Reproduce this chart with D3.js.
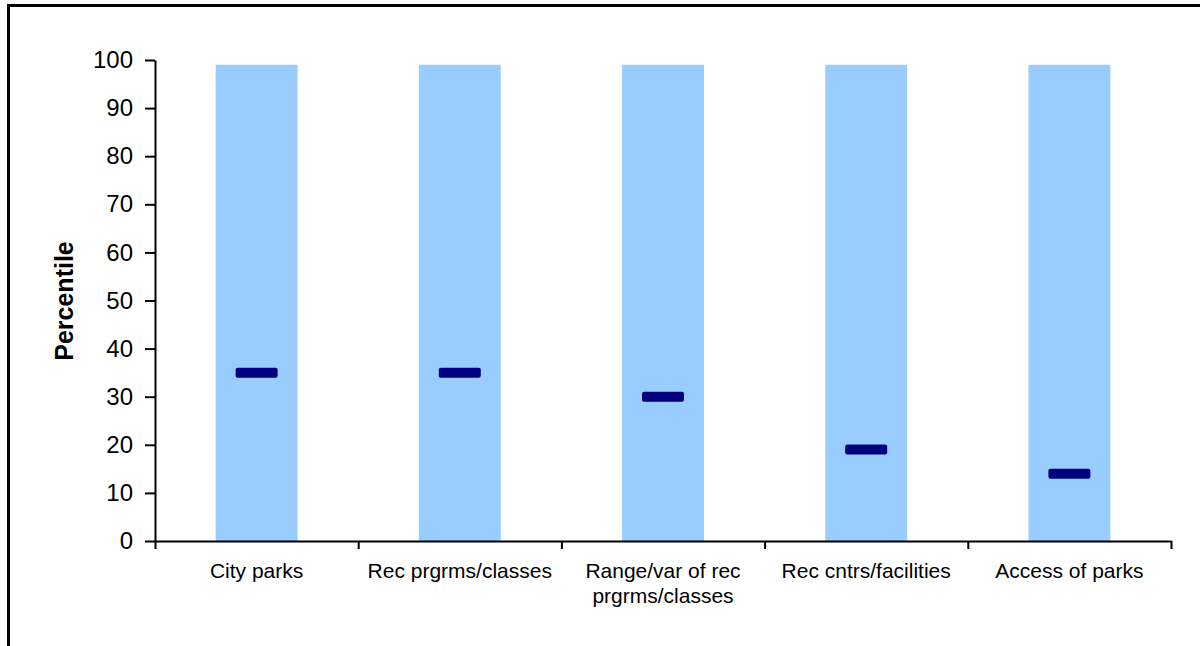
<!DOCTYPE html>
<html>
<head>
<meta charset="utf-8">
<script src="https://cdn.jsdelivr.net/npm/d3@7"></script>
<style>
  html, body { margin: 0; padding: 0; background: #fff; }
  svg { display: block; font-family: "Liberation Sans", Arial, sans-serif; }
</style>
</head>
<body>
<svg id="chart" width="1200" height="646"></svg>
<script>
// ---- data ----
const categories = ["City parks", "Rec prgrms/classes", "Range/var of rec prgrms/classes", "Rec cntrs/facilities", "Access of parks"];
const rangeTop = [99, 99, 99, 99, 99];
const percentiles = [35, 35, 30, 19, 14];
const yTicks = [0, 10, 20, 30, 40, 50, 60, 70, 80, 90, 100];
const yTitle = "Percentile";

// ---- layout ----
const W = 1200, H = 646;
const plot = { left: 155, right: 1171, top: 60, bottom: 541 };
const svg = d3.select("#chart");

// frame (top and left border)
svg.append("line").attr("x1", 7).attr("x2", W).attr("y1", 5.5).attr("y2", 5.5)
  .attr("stroke", "#000").attr("stroke-width", 3);
svg.append("line").attr("x1", 8.5).attr("x2", 8.5).attr("y1", 4).attr("y2", H)
  .attr("stroke", "#000").attr("stroke-width", 3);

const x = d3.scaleBand().domain(categories).range([plot.left, plot.right]).paddingInner(0).paddingOuter(0);
const xEdges = d3.scaleLinear().domain([0, categories.length]).range([plot.left, plot.right]);
const y = d3.scaleLinear().domain([0, 100]).range([plot.bottom, plot.top]);

const barW = x.bandwidth() * 0.403;
const markW = 42, markH = 10;

// bars (range backdrop)
svg.append("g").selectAll("rect").data(categories).join("rect")
  .attr("x", d => x(d) + x.bandwidth() / 2 - barW / 2)
  .attr("width", barW)
  .attr("y", (d, i) => y(rangeTop[i]))
  .attr("height", (d, i) => y(0) - y(rangeTop[i]))
  .attr("fill", "#99CCFF");

// markers
svg.append("g").selectAll("rect").data(categories).join("rect")
  .attr("x", d => x(d) + x.bandwidth() / 2 - markW / 2)
  .attr("width", markW)
  .attr("y", (d, i) => y(percentiles[i]) - markH / 2)
  .attr("height", markH)
  .attr("rx", 2).attr("ry", 2)
  .attr("fill", "#000080");

// y axis
const yAxis = svg.append("g").attr("transform", `translate(${plot.left},0)`)
  .call(d3.axisLeft(y).tickValues(yTicks).tickSize(10).tickPadding(12).tickSizeOuter(0));
yAxis.selectAll("path, line").attr("stroke", "#000").attr("stroke-width", 2);
yAxis.selectAll("text").attr("font-size", 24).attr("fill", "#000")
  .attr("font-family", '"Liberation Sans", Arial, sans-serif');

// x axis (ticks at category boundaries)
const xAxis = svg.append("g").attr("transform", `translate(0,${plot.bottom})`)
  .call(d3.axisBottom(xEdges).tickValues(d3.range(categories.length + 1)).tickSize(8).tickSizeOuter(0).tickFormat(""));
xAxis.selectAll("path, line").attr("stroke", "#000").attr("stroke-width", 2);

// x labels with wrapping
const labels = svg.append("g").selectAll("text").data(categories).join("text")
  .attr("x", d => x(d) + x.bandwidth() / 2)
  .attr("y", plot.bottom + 37)
  .attr("text-anchor", "middle")
  .attr("font-size", 21)
  .attr("fill", "#000");
labels.each(function(d) {
  const t = d3.select(this);
  const words = d.split(" ");
  const cx = +t.attr("x");
  let line = [];
  let tspan = t.append("tspan").attr("x", cx).attr("dy", 0);
  words.forEach(w => {
    line.push(w);
    tspan.text(line.join(" "));
    if (tspan.node().getComputedTextLength() > 195 && line.length > 1) {
      line.pop();
      tspan.text(line.join(" "));
      line = [w];
      tspan = t.append("tspan").attr("x", cx).attr("dy", 25).text(w);
    }
  });
});

// y title
svg.append("text")
  .attr("transform", `translate(73,${(plot.top + plot.bottom) / 2 + 0.5}) rotate(-90)`)
  .attr("text-anchor", "middle")
  .attr("font-size", 25)
  .attr("font-weight", "bold")
  .attr("fill", "#000")
  .text(yTitle);
</script>
</body>
</html>
